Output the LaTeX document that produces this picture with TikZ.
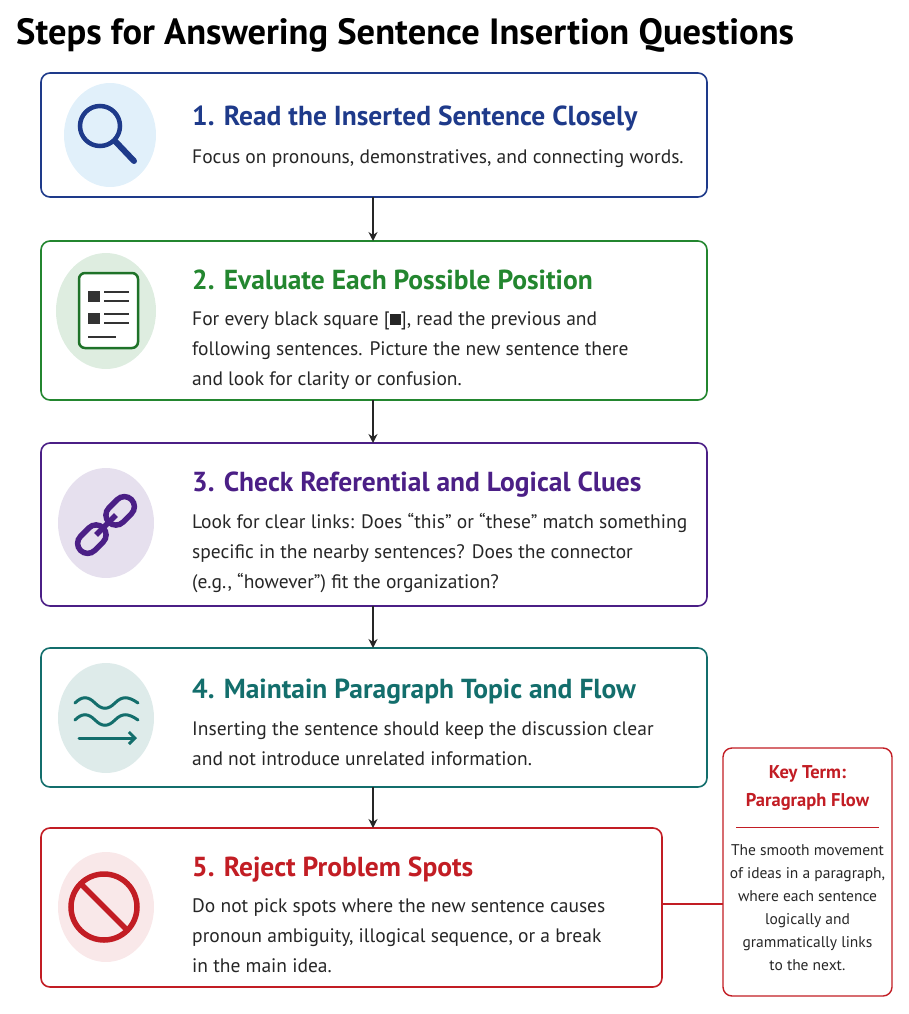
\documentclass[tikz,border=0pt]{standalone}
\usepackage{fontspec}
\setmainfont{PT Sans}
\usetikzlibrary{arrows.meta}
\definecolor{cb}{HTML}{1E3A8A}\definecolor{cg}{HTML}{23862F}\definecolor{cp}{HTML}{4B1F86}
\definecolor{ct}{HTML}{136E6C}\definecolor{cr}{HTML}{C21D24}\definecolor{lb}{HTML}{E1F0FA}
\begin{document}
\begin{tikzpicture}[x=1pt,y=-1pt,
 box/.style={draw=#1,line width=1.6pt,rounded corners=9pt},
 head/.style={anchor=base west,font=\fontsize{27.5}{30}\selectfont\bfseries,text=#1,inner sep=0},
 body/.style={anchor=north west,font=\fontsize{19.5}{30}\selectfont,align=left,inner sep=0,text=black!85},
 arr/.style={-{Stealth[length=9pt,width=9pt]},line width=1.8pt,black!85}]
\useasboundingbox (0,0) rectangle (908,1014);
\node[anchor=base west,inner sep=0,font=\fontsize{36.5}{40}\selectfont\bfseries] (title) at (16,45) {Steps for Answering Sentence Insertion Questions};
% boxes
\draw[box=cb] (41,73) rectangle (707,197);
\coordinate (b1t) at (373,73); \coordinate (b1b) at (373,197);
\draw[box=cg] (41,241) rectangle (707,400); \coordinate (b2t) at (373,241); \coordinate (b2b) at (373,400);
\draw[box=cp] (41,443) rectangle (707,606); \coordinate (b3t) at (373,443); \coordinate (b3b) at (373,606);
\draw[box=ct] (41,648) rectangle (707,787); \coordinate (b4t) at (373,648); \coordinate (b4b) at (373,787);
\draw[box=cr] (41,828) rectangle (662,987); \coordinate (b5t) at (373,828); \coordinate (b5r) at (662,904);
\draw[arr] (b1b)--(b2t); \draw[arr] (b2b)--(b3t); \draw[arr] (b3b)--(b4t); \draw[arr] (b4b)--(b5t);
% texts
\node[head=cb] (h1) at (192,125) {1. Read the Inserted Sentence Closely};
\node[body] (t1) at (192,149) {Focus on pronouns, demonstratives, and connecting words.};
\node[head=cg] (h2) at (192,289) {2. Evaluate Each Possible Position};
\node[body] (t2) at (192,311) {For every black square [\raisebox{0.5pt}{\rule{11pt}{11pt}}], read the previous and\\following sentences. Picture the new sentence there\\and look for clarity or confusion.};
\node[head=cp] (h3) at (192,491) {3. Check Referential and Logical Clues};
\node[body] (t3) at (192,513) {Look for clear links: Does “this” or “these” match something\\specific in the nearby sentences? Does the connector\\(e.g., “however”) fit the organization?};
\node[head=ct] (h4) at (192,698) {4. Maintain Paragraph Topic and Flow};
\node[body] (t4) at (192,721) {Inserting the sentence should keep the discussion clear\\and not introduce unrelated information.};
\node[head=cr] (h5) at (192,876) {5. Reject Problem Spots};
\node[body] (t5) at (192,898) {Do not pick spots where the new sentence causes\\pronoun ambiguity, illogical sequence, or a break\\in the main idea.};
% key term
\draw[box=cr,line width=1.4pt] (723,748) rectangle (892,996);
\coordinate (kl) at (723,904);
\draw[cr,line width=1.6pt] (b5r)--(kl);
\node[anchor=north,inner sep=0,align=center,text=cr,font=\fontsize{18.5}{28}\selectfont\bfseries] (kt) at (807.5,765) {Key Term:\\Paragraph Flow};
\draw[cr,line width=1pt] (736,827)--(879,827);
\node[anchor=north,inner sep=0,align=center,font=\fontsize{15.5}{23}\selectfont,text=black!85] (kb) at (807.5,844) {The smooth movement\\of ideas in a paragraph,\\where each sentence\\logically and\\grammatically links\\to the next.};
% icons
\fill[lb] (110,135) ellipse (46 and 52);
\draw[cb,line width=4.5pt] (100,126) circle (20);
\draw[cb,line width=6pt,line cap=round] (115,141)--(134,161);
\fill[cg!15] (106,311) ellipse (50 and 58);
\draw[cg!85!black,line width=2.5pt,fill=white,rounded corners=6pt] (79,273) rectangle (138,348);
\fill[black!80] (88,291) rectangle (100,302); \fill[black!80] (88,313) rectangle (100,324);
\draw[black!80,line width=1.6pt] (104,292)--(129,292) (104,301)--(129,301) (104,314)--(129,314) (104,323)--(129,323) (88,337)--(116,337);
\fill[cp!14] (106,523) ellipse (48 and 55);
\begin{scope}[shift={(106,525)},rotate=-45]
\draw[cp,line width=5.5pt,rounded corners=10pt] (-10,-36) rectangle (10,-4);
\draw[cp,line width=5.5pt,rounded corners=10pt] (-10,4) rectangle (10,36);
\draw[cp,line width=5.5pt] (0,-14)--(0,14);
\end{scope}
\fill[ct!14] (106,718) ellipse (48 and 55);
\draw[ct,line width=3pt,line cap=round] (75,703) .. controls (82,696) and (88,696) .. (95,703) .. controls (102,710) and (108,710) .. (115,703) .. controls (122,696) and (128,696) .. (138,703);
\draw[ct,line width=3pt,line cap=round] (75,720) .. controls (82,713) and (88,713) .. (95,720) .. controls (102,727) and (108,727) .. (115,720) .. controls (122,713) and (128,713) .. (138,720);
\draw[ct,line width=3pt,line cap=round,-{Straight Barb[length=6pt,width=12pt]}] (79,738)--(137,738);
\fill[cr!10] (106,907) ellipse (48 and 55);
\draw[cr,line width=5.5pt] (104,907) circle (33);
\draw[cr,line width=5.5pt] (81,884)--(127,930);
\end{tikzpicture}
\end{document}
